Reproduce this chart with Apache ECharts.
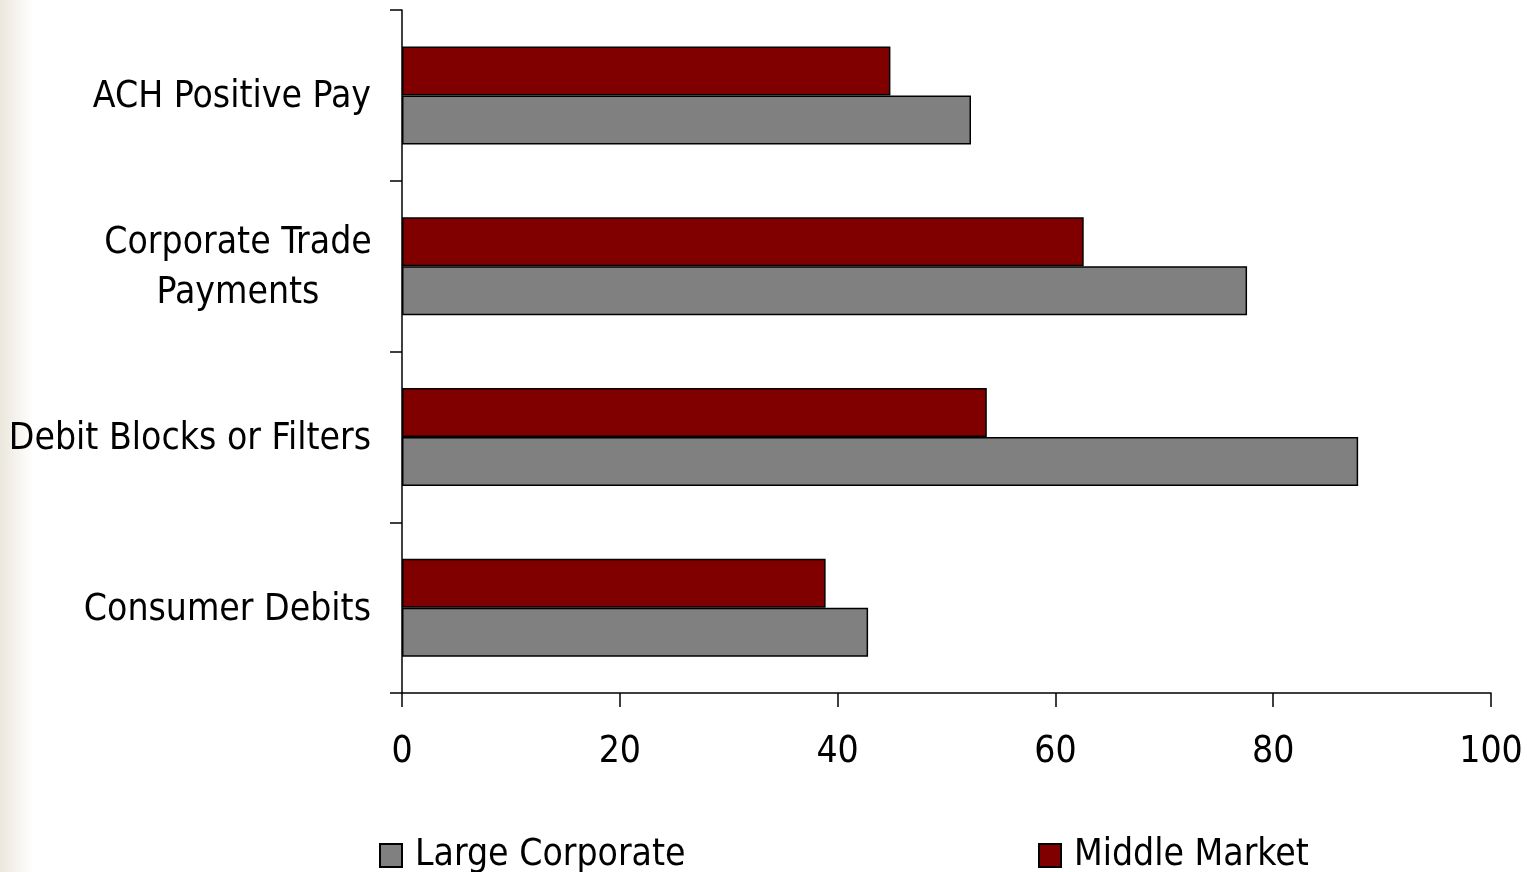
<!DOCTYPE html>
<html>
<head>
<meta charset="utf-8">
<script src="https://cdn.jsdelivr.net/npm/echarts@6/dist/echarts.min.js"></script>
<style>
html,body{margin:0;padding:0;}
body{width:1527px;height:872px;background:linear-gradient(to right,#ebe7dd 0px,#f3f1ea 14px,#fbfaf8 26px,#ffffff 34px);}
#c{width:1527px;height:872px;}
</style>
</head>
<body>
<div id="c"></div>
<script>
// categories bottom-to-top
const categories = ['Consumer Debits', 'Debit Blocks or Filters', 'Corporate Trade Payments', 'ACH Positive Pay'];
const largeCorporate = [42.8, 87.8, 77.6, 52.25];
const middleMarket = [38.9, 53.7, 62.6, 44.85];
const xTicks = [0, 20, 40, 60, 80, 100];

const FONT = '"DejaVu Sans Condensed", "DejaVu Sans", sans-serif';
const chart = echarts.init(document.getElementById('c'));
const legendCommon = {
  top: 837, padding: 0, itemWidth: 22, itemHeight: 23, icon: 'rect',
  textStyle: {fontFamily: FONT, fontSize: 37, color: '#000', padding: [0, 0, 0, 8]}
};
chart.setOption({
  backgroundColor: 'transparent',
  animation: false,
  grid: {left: 402, right: 36, top: 10, bottom: 179},
  legend: [
    Object.assign({data: ['Large Corporate'], left: 379}, legendCommon),
    Object.assign({data: ['Middle Market'], left: 1038}, legendCommon)
  ],
  xAxis: {
    type: 'value', min: xTicks[0], max: xTicks[xTicks.length - 1], interval: 20,
    axisLine: {show: true, lineStyle: {color: '#000', width: 1.5}},
    axisTick: {show: true, length: 14, lineStyle: {color: '#000', width: 1.5}},
    splitLine: {show: false},
    axisLabel: {fontFamily: FONT, fontSize: 37, color: '#000', margin: 41}
  },
  yAxis: {
    type: 'category', data: categories,
    axisLine: {show: true, lineStyle: {color: '#000', width: 1.5}},
    axisTick: {show: true, length: 12, lineStyle: {color: '#000', width: 1.5}},
    axisLabel: {
      fontFamily: FONT, fontSize: 37, color: '#000', margin: 31, lineHeight: 50,
      padding: [5, 0, 0, 0],
      formatter: function (v) {
        if (v === 'Corporate Trade Payments') return '{c|Corporate Trade}\n{c|Payments}';
        return v;
      },
      rich: {c: {fontFamily: FONT, fontSize: 37, color: '#000', width: 266, align: 'center', lineHeight: 50}}
    }
  },
  series: [
    {name: 'Middle Market', type: 'bar', data: middleMarket, barWidth: 49, barGap: '0%',
     itemStyle: {color: '#800000', borderColor: '#000', borderWidth: 1.5}},
    {name: 'Large Corporate', type: 'bar', data: largeCorporate, barWidth: 49, barGap: '0%',
     itemStyle: {color: '#808080', borderColor: '#000', borderWidth: 1.5}}
  ]
});
</script>
</body>
</html>
